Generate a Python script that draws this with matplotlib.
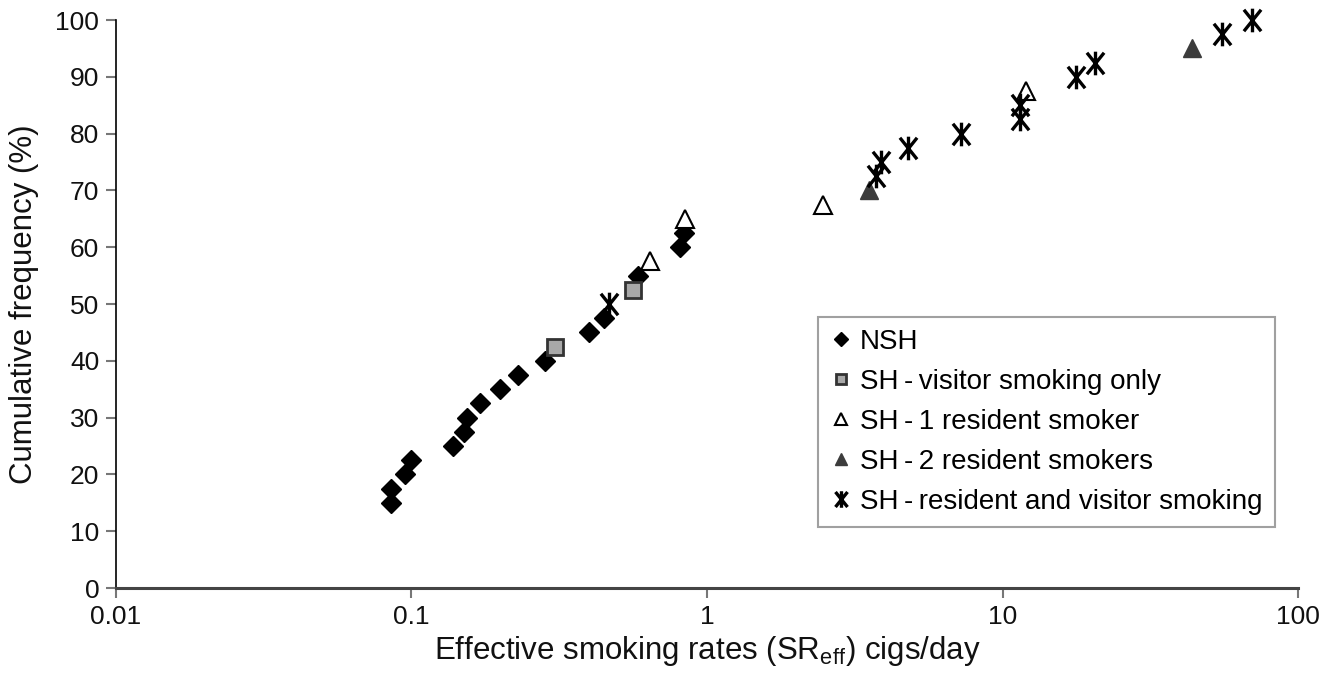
import matplotlib
matplotlib.use("Agg")
import matplotlib.pyplot as plt
from matplotlib.path import Path
from matplotlib.ticker import FixedLocator, FixedFormatter, NullLocator

plt.rcParams['font.family'] = ['Liberation Sans', 'DejaVu Sans']
plt.rcParams['mathtext.fontset'] = 'custom'
plt.rcParams['mathtext.rm'] = 'Liberation Sans'
plt.rcParams['mathtext.it'] = 'Liberation Sans'

# Data
nsh_x = [0.085, 0.085, 0.095, 0.100, 0.138, 0.151, 0.154, 0.171, 0.199, 0.229, 0.284, 0.398, 0.448, 0.583, 0.81, 0.835]
nsh_y = [15, 17.5, 20, 22.5, 25, 27.5, 30, 32.5, 35, 37.5, 40, 45, 47.5, 55, 60, 62.5]
vis_x = [0.305, 0.561]
vis_y = [42.5, 52.5]
res1_x = [0.641, 0.84, 2.47, 12.0]
res1_y = [57.5, 65, 67.5, 87.5]
res2_x = [3.54, 43.8]
res2_y = [70, 95]
rv_x = [0.466, 3.74, 3.89, 4.77, 7.26, 11.5, 11.5, 17.7, 20.5, 55.2, 69.8]
rv_y = [50, 72.5, 75, 77.5, 80, 82.5, 85, 90, 92.5, 97.5, 100]

labels = ["NSH", "SH\u2009-\u2009visitor smoking only", "SH\u2009-\u20091 resident smoker",
          "SH\u2009-\u20092 resident smokers", "SH\u2009-\u2009resident and visitor smoking"]
xticks = [0.01, 0.1, 1, 10, 100]
xticklabels = ["0.01", "0.1", "1", "10", "100"]
yticks = list(range(0, 101, 10))

fig = plt.figure(figsize=(13.39, 6.79), dpi=100)
ax = fig.add_axes([0.0866, 0.134, 0.8828, 0.8365])

# asterisk marker: X plus vertical line
ast = Path([(-0.8, -1), (0.8, 1), (-0.8, 1), (0.8, -1), (0, -1.1), (0, 1.1)],
           [Path.MOVETO, Path.LINETO, Path.MOVETO, Path.LINETO, Path.MOVETO, Path.LINETO])

common = dict(linestyle='none', clip_on=False)
ax.plot(nsh_x, nsh_y, marker='D', ms=10, mfc='black', mec='black', label=labels[0], **common)
ax.plot(vis_x, vis_y, marker='s', ms=11, mfc='#a8a8a8', mec='#333333', mew=2, label=labels[1], **common)
ax.plot(res1_x, res1_y, marker='^', ms=13, mfc='white', mec='black', mew=1.5, label=labels[2], **common)
ax.plot(res2_x, res2_y, marker='^', ms=13, mfc='#3c3c3c', mec='#3c3c3c', mew=1, label=labels[3], **common)
ax.plot(rv_x, rv_y, marker=ast, ms=17, mfc='none', mec='black', mew=2.4, label=labels[4], **common)

ax.set_xscale('log')
ax.set_xlim(0.01, 100)
ax.set_ylim(0, 100)
ax.xaxis.set_major_locator(FixedLocator(xticks))
ax.xaxis.set_major_formatter(FixedFormatter(xticklabels))
ax.xaxis.set_minor_locator(NullLocator())
ax.set_yticks(yticks)

for s in ['top', 'right']:
    ax.spines[s].set_visible(False)
ax.spines['left'].set_color('black')
ax.spines['left'].set_linewidth(1.2)
ax.spines['bottom'].set_color('#444444')
ax.spines['bottom'].set_linewidth(2.2)
ax.tick_params(axis='both', direction='out', length=7, width=1.5, color='#777777',
               labelsize=19, labelcolor='#111111')
ax.tick_params(axis='x', pad=5)
ax.tick_params(axis='y', pad=5)

ax.set_xlabel("Effective smoking rates (SR$_{\\mathrm{eff}}$) cigs/day", fontsize=22.5, labelpad=4, color='#111111')
ax.set_ylabel("Cumulative frequency (%)", fontsize=22.5, labelpad=12, color='#111111')

leg = ax.legend(loc='lower right', bbox_to_anchor=(0.9805, 0.107), borderaxespad=0,
                fontsize=20, frameon=True, fancybox=False, handletextpad=0.35,
                handlelength=0.7, labelspacing=0.5, borderpad=0.45, markerscale=0.7)
leg.get_frame().set_edgecolor('#888888')
leg.get_frame().set_linewidth(1.5)

fig.savefig("out.png", dpi=100)
